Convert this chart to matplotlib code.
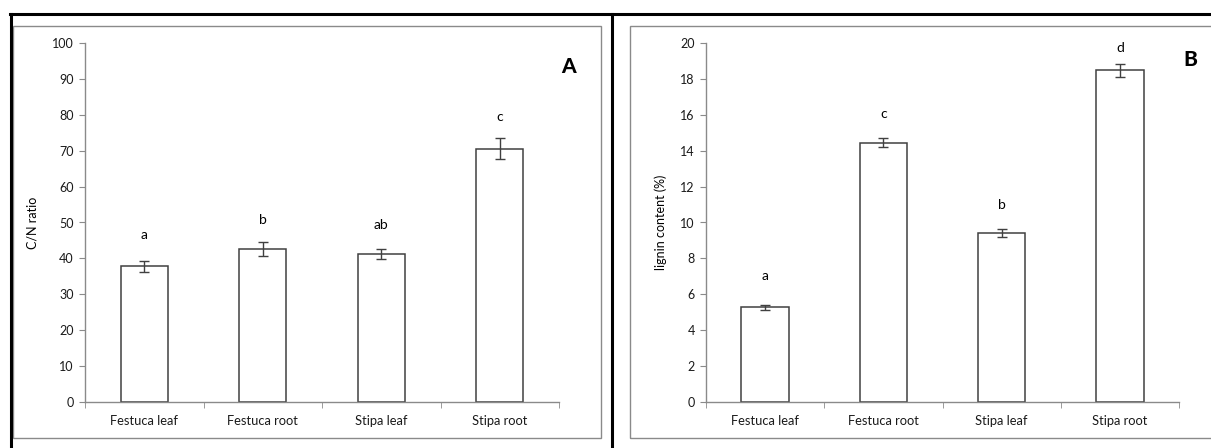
import numpy as np
import matplotlib.pyplot as plt
from matplotlib.patches import Rectangle
from matplotlib.lines import Line2D

plt.rcParams['font.family'] = ['Lato', 'DejaVu Sans']

categories = ['Festuca leaf', 'Festuca root', 'Stipa leaf', 'Stipa root']

# panel A: C/N ratio
cn_mean = [37.8, 42.6, 41.2, 70.5]
cn_err = [1.5, 2.0, 1.4, 2.9]
cn_letters = ['a', 'b', 'ab', 'c']
cn_letter_y = [46.4, 50.6, 49.2, 79.3]

# panel B: lignin content
lig_mean = [5.27, 14.45, 9.43, 18.48]
lig_err = [0.14, 0.25, 0.22, 0.35]
lig_letters = ['a', 'c', 'b', 'd']
lig_letter_y = [7.0, 16.05, 11.0, 19.7]

W, H = 1211, 448
EDGE = '#404040'
SPINE = '#8a8a8a'


def fx(px):
    return px / W


def fy(py):
    return 1 - py / H


def draw_panel(ax, means, errs, letters, letter_y, ymax, ystep, ylabel, tag):
    x = np.arange(len(categories))
    ax.bar(x, means, width=0.4, color='white', edgecolor=EDGE, linewidth=1.1, zorder=2)
    ax.errorbar(x, means, yerr=errs, fmt='none', ecolor=EDGE, elinewidth=1.0,
                capsize=3.5, capthick=1.0, zorder=3)
    for xi, lt, ly in zip(x, letters, letter_y):
        ax.text(xi, ly, lt, ha='center', va='center', fontsize=10, color='black')

    ax.set_xlim(-0.5, len(categories) - 0.5)
    ax.set_ylim(0, ymax)
    ax.set_yticks(np.arange(0, ymax + ystep / 2, ystep))
    ax.set_xticks(x)
    ax.set_xticklabels(categories)
    ax.set_xticks(np.arange(-0.5, len(categories)), minor=True)
    ax.tick_params(axis='x', which='major', length=0, pad=9, labelsize=9.3, labelcolor='#1a1a1a')
    ax.tick_params(axis='x', which='minor', length=4, color=SPINE, direction='out')
    ax.tick_params(axis='y', length=4, color=SPINE, direction='out', pad=4,
                   labelsize=9, labelcolor='#1a1a1a')
    for s in ['top', 'right']:
        ax.spines[s].set_visible(False)
    for s in ['left', 'bottom']:
        ax.spines[s].set_color(SPINE)
        ax.spines[s].set_linewidth(1.0)
    ax.set_ylabel(ylabel, fontsize=9, color='black')
    ax.text(1.02, 0.935, tag, transform=ax.transAxes, ha='center', va='center',
            fontsize=15, fontweight='black')


fig = plt.figure(figsize=(12.11, 4.48), dpi=100)

ax_a = fig.add_axes([fx(85), fy(402), fx(474), 359 / H])
draw_panel(ax_a, cn_mean, cn_err, cn_letters, cn_letter_y, 100, 10, 'C/N ratio', 'A')
ax_a.yaxis.set_label_coords(-0.098, 0.5)

ax_b = fig.add_axes([fx(706), fy(402), fx(473), 359 / H])
draw_panel(ax_b, lig_mean, lig_err, lig_letters, lig_letter_y, 20, 2, 'lignin content (%)', 'B')
ax_b.yaxis.set_label_coords(-0.083, 0.5)
ax_b.texts[-1].set_position((1.025, 0.955))

# grey chart frames
fig.add_artist(Rectangle((fx(12.5), fy(438)), fx(588.5), (438 - 26) / H, transform=fig.transFigure,
                         fill=False, edgecolor=SPINE, linewidth=1.0))
fig.add_artist(Rectangle((fx(630), fy(438)), fx(590), (438 - 26) / H, transform=fig.transFigure,
                         fill=False, edgecolor=SPINE, linewidth=1.0))

# black outer border lines
fig.add_artist(Line2D([fx(10), 1], [fy(14), fy(14)], color='black', linewidth=2.2))
fig.add_artist(Line2D([fx(11), fx(11)], [fy(14), 0], color='black', linewidth=2.2))
fig.add_artist(Line2D([fx(612), fx(612)], [fy(14), 0], color='black', linewidth=2.2))

fig.savefig('out.png', dpi=100)
